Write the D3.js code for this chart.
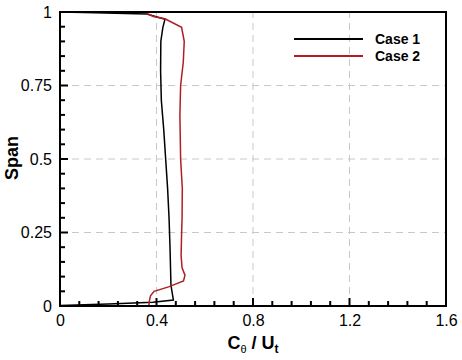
<!DOCTYPE html>
<html><head><meta charset="utf-8">
<script src="https://cdn.jsdelivr.net/npm/d3@7"></script>
<style>body{margin:0;background:#fff}svg{display:block}</style>
</head><body><div id="chart"></div>
<script>
// Data (Cθ/Ut, Span)
const case1X = [0.0, 0.10, 0.36, 0.435, 0.426, 0.418, 0.417, 0.420, 0.430, 0.438, 0.446, 0.452, 0.456, 0.460, 0.470, 0.385, 0.20, 0.0];
const case1Y = [1.0, 0.998, 0.993, 0.975, 0.946, 0.900, 0.800, 0.700, 0.600, 0.500, 0.400, 0.300, 0.200, 0.070, 0.020, 0.013, 0.007, 0.002];
const case2X = [0.360, 0.387, 0.435, 0.504, 0.515, 0.511, 0.500, 0.497, 0.500, 0.507, 0.506, 0.504, 0.502, 0.506, 0.518, 0.512, 0.450, 0.390, 0.375, 0.370, 0.368];
const case2Y = [0.995, 0.985, 0.977, 0.948, 0.900, 0.830, 0.750, 0.650, 0.500, 0.400, 0.300, 0.245, 0.170, 0.130, 0.105, 0.085, 0.065, 0.050, 0.035, 0.015, 0.0];
const seriesNames = ["Case 1", "Case 2"];
const seriesColors = ["#000000", "#b01e23"];
const xTicks = [0, 0.4, 0.8, 1.2, 1.6];
const xTickLabels = ["0", "0.4", "0.8", "1.2", "1.6"];
const yTicks = [0, 0.25, 0.5, 0.75, 1];
const yTickLabels = ["0", "0.25", "0.5", "0.75", "1"];

const W = 462, H = 360;
const m = {left: 60, top: 12, right: 16, bottom: 54};
const svg = d3.select("#chart").append("svg").attr("width", W).attr("height", H);
const x = d3.scaleLinear().domain([0, 1.6]).range([m.left, W - m.right]);
const y = d3.scaleLinear().domain([0, 1]).range([H - m.bottom, m.top]);
const font = "Arial, 'Liberation Sans', sans-serif";

// grid
const grid = svg.append("g").attr("stroke", "#c8c8c8").attr("stroke-width", 1).attr("stroke-dasharray", "7,5");
xTicks.slice(1, -1).forEach(v => grid.append("line").attr("x1", x(v)).attr("x2", x(v)).attr("y1", y(0)).attr("y2", y(1)));
yTicks.slice(1, -1).forEach(v => grid.append("line").attr("x1", x(0)).attr("x2", x(1.6)).attr("y1", y(v)).attr("y2", y(v)));

// series
const line = d3.line().x(d => x(d[0])).y(d => y(d[1]));
const s1 = case1X.map((v, i) => [v, case1Y[i]]);
const s2 = case2X.map((v, i) => [v, case2Y[i]]);
svg.append("path").datum(s1).attr("d", line).attr("fill", "none").attr("stroke", seriesColors[0]).attr("stroke-width", 1.5);
svg.append("path").datum(s2).attr("d", line).attr("fill", "none").attr("stroke", seriesColors[1]).attr("stroke-width", 1.5);

// axes (inward ticks)
const xMinor = d3.range(0, 1.6001, 0.08);
const yMinor = d3.range(0, 1.0001, 0.05);
const xAxis = d3.axisBottom(x).tickValues(xTicks).tickFormat((d, i) => xTickLabels[i]).tickSize(0).tickPadding(9);
const gx = svg.append("g").attr("transform", `translate(0,${y(0)})`).call(xAxis);
gx.select(".domain").remove();
gx.selectAll("text").attr("font-family", font).attr("font-size", 16).attr("fill", "#000");
const yAxis = d3.axisLeft(y).tickValues(yTicks).tickFormat((d, i) => yTickLabels[i]).tickSize(0).tickPadding(8);
const gy = svg.append("g").attr("transform", `translate(${x(0)},0)`).call(yAxis);
gy.select(".domain").remove();
gy.selectAll("text").attr("font-family", font).attr("font-size", 16).attr("fill", "#000");

const tk = svg.append("g").attr("stroke", "#000").attr("stroke-width", 2);
xMinor.forEach((v, i) => { const major = i % 5 === 0; tk.append("line").attr("x1", x(v)).attr("x2", x(v)).attr("y1", y(0)).attr("y2", y(0) - (major ? 8 : 5)); });
yMinor.forEach((v, i) => { const major = i % 5 === 0; tk.append("line").attr("y1", y(v)).attr("y2", y(v)).attr("x1", x(0)).attr("x2", x(0) + (major ? 8 : 5)); });

// frame
svg.append("rect").attr("x", x(0)).attr("y", y(1)).attr("width", x(1.6) - x(0)).attr("height", y(0) - y(1))
  .attr("fill", "none").attr("stroke", "#000").attr("stroke-width", 2);

// legend
const lg = svg.append("g");
seriesNames.forEach((n, i) => {
  const yy = 39 + i * 17;
  lg.append("line").attr("x1", 294).attr("x2", 363).attr("y1", yy).attr("y2", yy).attr("stroke", seriesColors[i]).attr("stroke-width", 2);
  lg.append("text").attr("x", 375).attr("y", yy).attr("dy", "0.35em").attr("font-family", font).attr("font-weight", "bold").attr("font-size", 14).text(n);
});

// axis titles
svg.append("text").attr("transform", `translate(18,158) rotate(-90)`).attr("text-anchor", "middle")
  .attr("font-family", font).attr("font-weight", "bold").attr("font-size", 18).text("Span");
const xt = svg.append("text").attr("x", x(0.8)).attr("y", 349).attr("text-anchor", "middle")
  .attr("font-family", font).attr("font-weight", "bold").attr("font-size", 18);
xt.append("tspan").text("C");
xt.append("tspan").attr("font-size", 11).attr("font-weight", "normal").attr("dy", 4).text("θ");
xt.append("tspan").attr("dy", -4).text(" / U");
xt.append("tspan").attr("font-size", 12).attr("dy", 4).text("t");
</script></body></html>
